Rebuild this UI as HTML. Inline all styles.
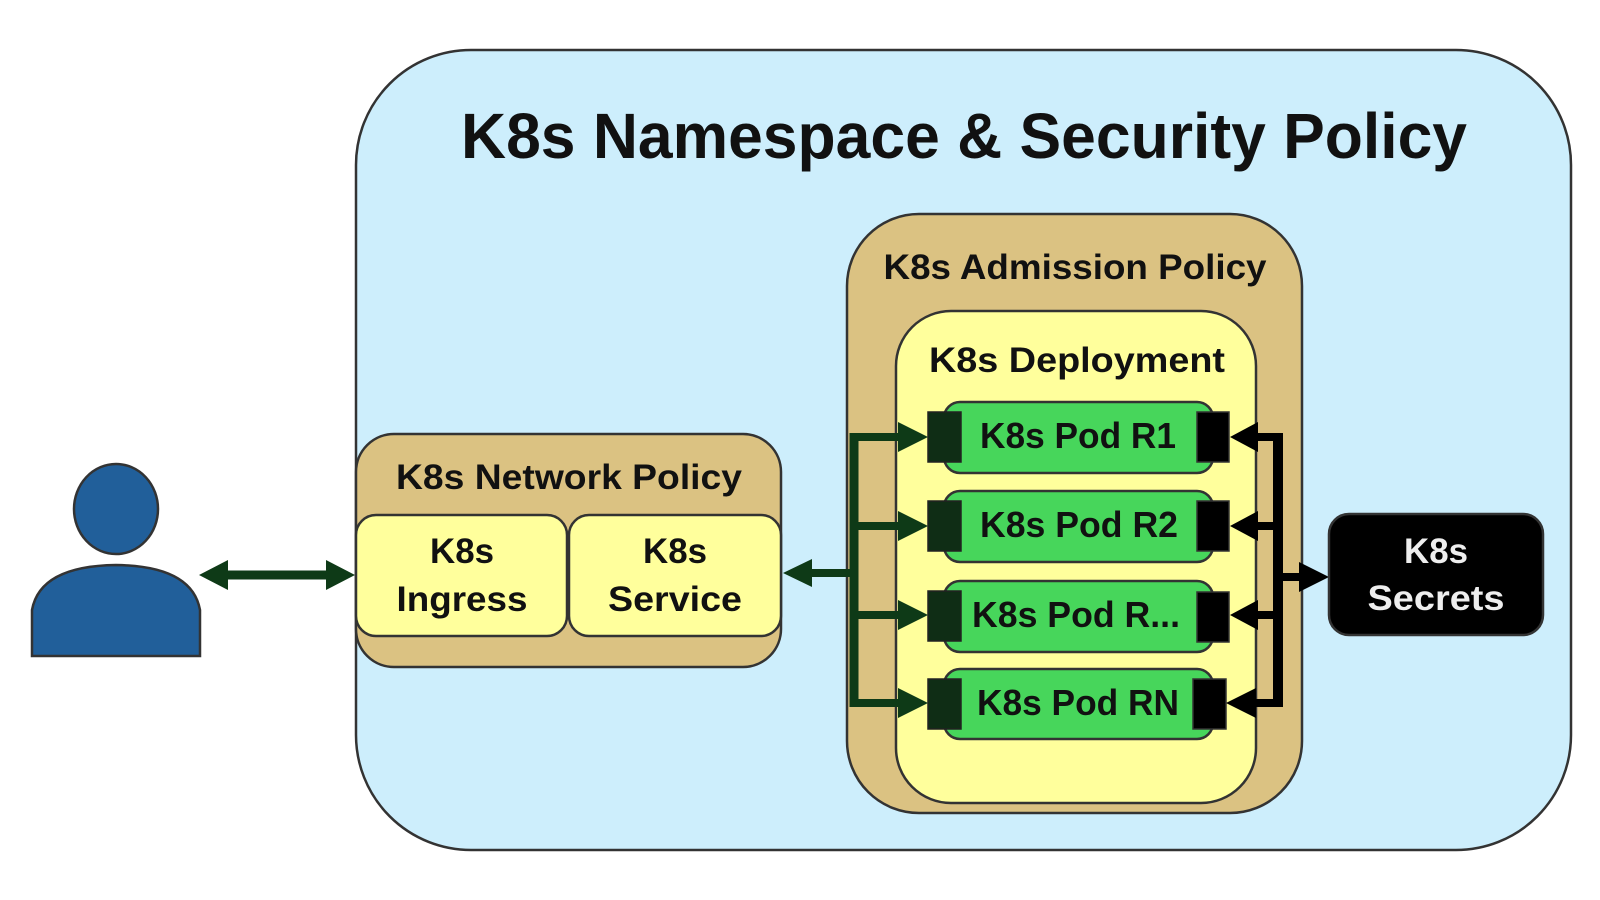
<!DOCTYPE html>
<html><head><meta charset="utf-8"><style>html,body{margin:0;padding:0;background:#fff}svg{display:block}text{font-family:"Liberation Sans",sans-serif;font-weight:bold}</style></head>
<body>
<svg width="1600" height="900" viewBox="0 0 1600 900" xmlns="http://www.w3.org/2000/svg">
<rect x="356" y="50" width="1215" height="800" rx="115" fill="#cdeefc" stroke="#333" stroke-width="2.5"/>
<text x="964" y="158" font-size="64" text-anchor="middle" textLength="1006" lengthAdjust="spacingAndGlyphs" fill="#111">K8s Namespace &amp; Security Policy</text>

<!-- person -->
<ellipse cx="116" cy="509" rx="42" ry="45" fill="#215f9a" stroke="#333" stroke-width="2.5"/>
<path d="M32 656 L32 610 Q40 566 116 565 Q192 566 200 610 L200 656 Z" fill="#215f9a" stroke="#333" stroke-width="2.5"/>

<!-- arrow person <-> ingress -->
<line x1="222" y1="575" x2="328" y2="575" stroke="#0e3a17" stroke-width="9"/>
<polygon points="199,575 228,560 228,590" fill="#0e3a17"/>
<polygon points="355,575 326,560 326,590" fill="#0e3a17"/>

<!-- network policy -->
<rect x="356" y="434" width="425" height="233" rx="38" fill="#dbc282" stroke="#333" stroke-width="2.5"/>
<text x="569" y="489" font-size="35" text-anchor="middle" textLength="346" lengthAdjust="spacingAndGlyphs" fill="#111">K8s Network Policy</text>
<rect x="356" y="515" width="211" height="121" rx="20" fill="#ffff9c" stroke="#333" stroke-width="2.5"/>
<rect x="569" y="515" width="212" height="121" rx="20" fill="#ffff9c" stroke="#333" stroke-width="2.5"/>
<text x="462" y="563" font-size="35" text-anchor="middle" textLength="64" lengthAdjust="spacingAndGlyphs" fill="#111">K8s</text>
<text x="462" y="611" font-size="35" text-anchor="middle" textLength="131" lengthAdjust="spacingAndGlyphs" fill="#111">Ingress</text>
<text x="675" y="563" font-size="35" text-anchor="middle" textLength="64" lengthAdjust="spacingAndGlyphs" fill="#111">K8s</text>
<text x="675" y="611" font-size="35" text-anchor="middle" textLength="134" lengthAdjust="spacingAndGlyphs" fill="#111">Service</text>

<!-- admission -->
<rect x="847" y="214" width="455" height="599" rx="72" fill="#dbc282" stroke="#333" stroke-width="2.5"/>
<text x="1075" y="279" font-size="35" text-anchor="middle" textLength="383" lengthAdjust="spacingAndGlyphs" fill="#111">K8s Admission Policy</text>
<rect x="896" y="311" width="360" height="492" rx="55" fill="#ffff9c" stroke="#333" stroke-width="2.5"/>
<text x="1077" y="372" font-size="35" text-anchor="middle" textLength="296" lengthAdjust="spacingAndGlyphs" fill="#111">K8s Deployment</text>

<!-- pods -->
<g stroke="#333" stroke-width="2.5">
<rect x="944" y="402" width="269" height="71" rx="16" fill="#47d65b"/>
<rect x="944" y="491" width="269" height="71" rx="16" fill="#47d65b"/>
<rect x="944" y="581" width="269" height="71" rx="16" fill="#47d65b"/>
<rect x="944" y="669" width="269" height="70" rx="16" fill="#47d65b"/>
</g>
<g fill="#0f2d15" stroke="#222" stroke-width="1.5">
<rect x="928" y="412" width="33" height="50"/>
<rect x="928" y="501" width="33" height="50"/>
<rect x="928" y="591" width="33" height="50"/>
<rect x="928" y="679" width="33" height="50"/>
</g>
<g fill="#000" stroke="#333" stroke-width="1.5">
<rect x="1197" y="412" width="32" height="50"/>
<rect x="1197" y="501" width="32" height="50"/>
<rect x="1197" y="592" width="32" height="50"/>
<rect x="1193" y="679" width="33" height="50"/>
</g>
<g font-size="36" fill="#111" text-anchor="middle">
<text x="1078" y="448" textLength="196" lengthAdjust="spacingAndGlyphs">K8s Pod R1</text>
<text x="1079" y="537" textLength="198" lengthAdjust="spacingAndGlyphs">K8s Pod R2</text>
<text x="1076" y="627" textLength="208" lengthAdjust="spacingAndGlyphs">K8s Pod R...</text>
<text x="1078" y="715" textLength="202" lengthAdjust="spacingAndGlyphs">K8s Pod RN</text>
</g>

<!-- left connectors -->
<g stroke="#0e3a17" fill="none">
<line x1="854" y1="433" x2="854" y2="707" stroke-width="9"/>
<g stroke-width="8">
<line x1="850" y1="437" x2="902" y2="437"/>
<line x1="850" y1="526" x2="902" y2="526"/>
<line x1="850" y1="615" x2="902" y2="615"/>
<line x1="850" y1="703" x2="902" y2="703"/>
<line x1="808" y1="573" x2="858" y2="573"/>
</g>
</g>
<g fill="#0e3a17">
<polygon points="928,437 898,422 898,452"/>
<polygon points="928,526 898,511 898,541"/>
<polygon points="928,615 898,600 898,630"/>
<polygon points="928,703 898,688 898,718"/>
<polygon points="783,573 812,559 812,587"/>
</g>

<!-- right connectors -->
<g stroke="#000" fill="none">
<line x1="1278" y1="433" x2="1278" y2="707" stroke-width="10"/>
<g stroke-width="8">
<line x1="1254" y1="437" x2="1282" y2="437"/>
<line x1="1254" y1="526" x2="1282" y2="526"/>
<line x1="1254" y1="615" x2="1282" y2="615"/>
<line x1="1254" y1="703" x2="1282" y2="703"/>
<line x1="1278" y1="577" x2="1303" y2="577"/>
</g>
</g>
<g fill="#000">
<polygon points="1230,437 1258,422 1258,452"/>
<polygon points="1230,526 1258,511 1258,541"/>
<polygon points="1230,615 1258,600 1258,630"/>
<polygon points="1226,703 1256,688 1256,718"/>
<polygon points="1329,577 1299,562 1299,592"/>
</g>

<!-- secrets -->
<rect x="1329" y="514" width="214" height="121" rx="20" fill="#000" stroke="#333" stroke-width="2.5"/>
<text x="1436" y="563" font-size="35" text-anchor="middle" textLength="64" lengthAdjust="spacingAndGlyphs" fill="#eee">K8s</text>
<text x="1436" y="610" font-size="35" text-anchor="middle" textLength="137" lengthAdjust="spacingAndGlyphs" fill="#eee">Secrets</text>
</svg>
</body></html>
